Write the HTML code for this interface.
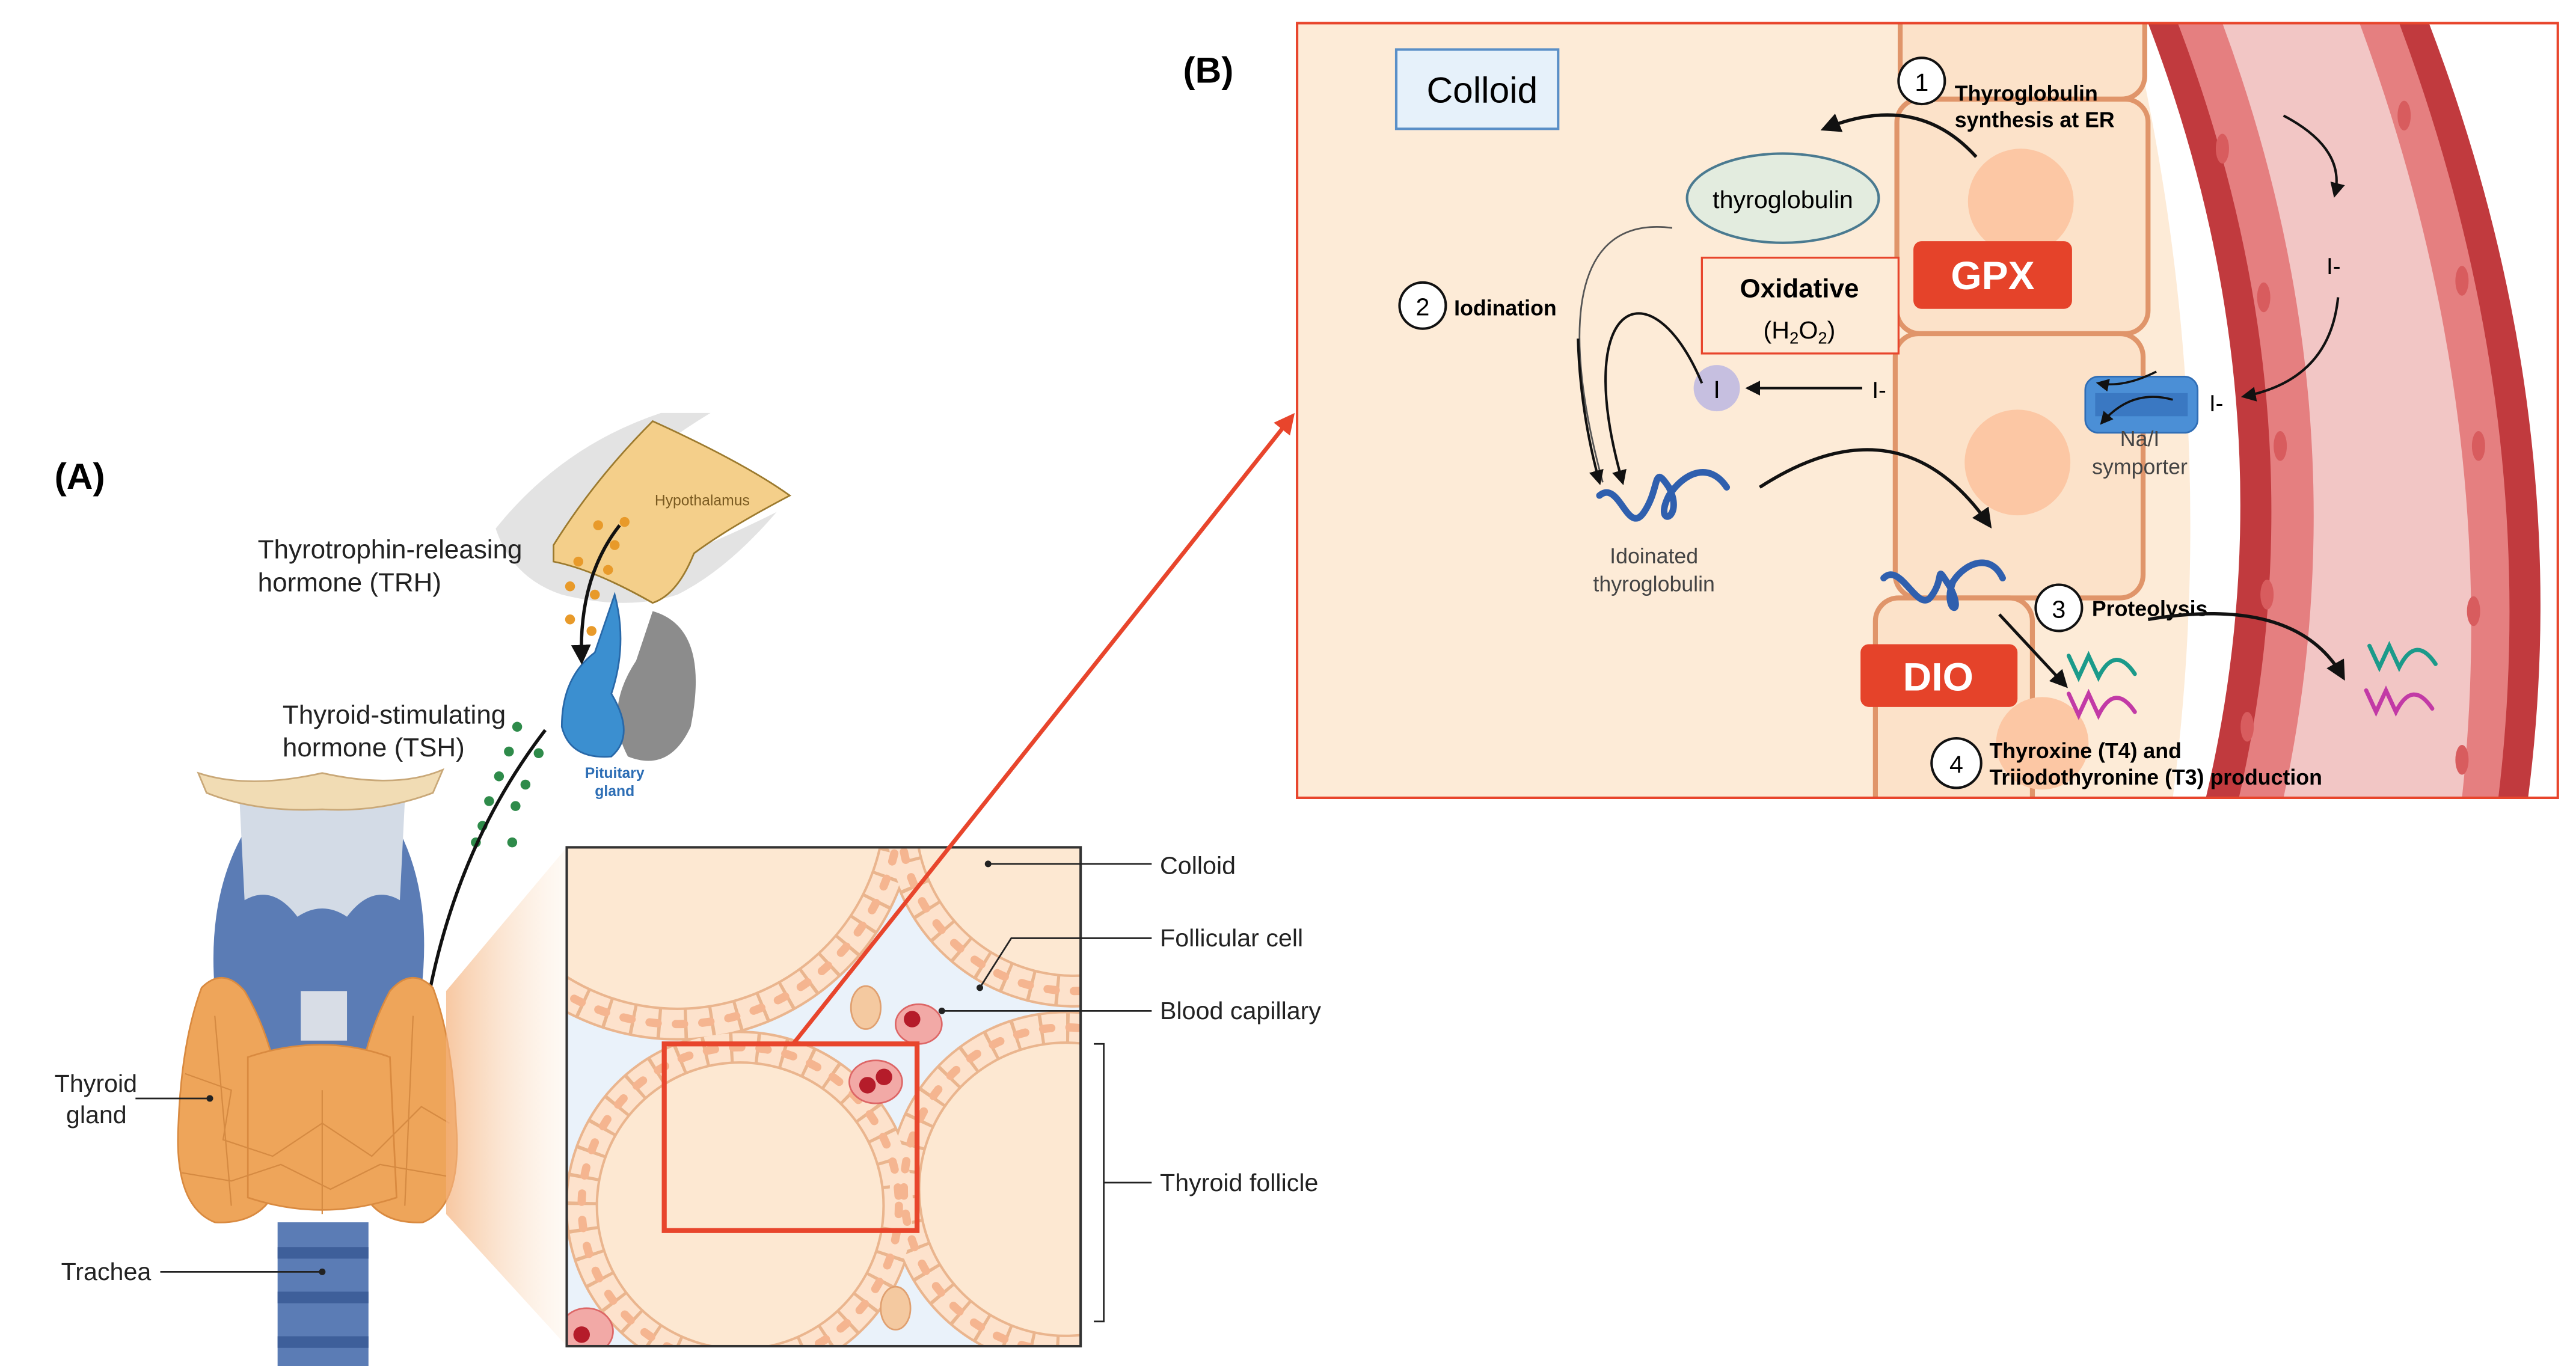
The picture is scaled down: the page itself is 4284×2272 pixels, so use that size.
<!DOCTYPE html>
<html><head><meta charset="utf-8"><style>
html,body{margin:0;padding:0;background:#fff;width:4284px;height:2272px;overflow:hidden}
svg{display:block}
text{font-family:"Liberation Sans",sans-serif}
</style></head><body>
<svg width="4284" height="2272" viewBox="0 0 1559 827" preserveAspectRatio="none" xmlns="http://www.w3.org/2000/svg">
<defs>
<marker id="ah" viewBox="0 0 10 10" refX="8" refY="5" markerWidth="6" markerHeight="6" orient="auto-start-reverse"><path d="M0,0 L10,5 L0,10 z" fill="#111"/></marker>
<marker id="rh" viewBox="0 0 10 10" refX="8" refY="5" markerWidth="5" markerHeight="5" orient="auto"><path d="M0,0 L10,5 L0,10 z" fill="#e8452c"/></marker>
<clipPath id="cb"><rect x="785" y="14" width="763" height="469"/></clipPath>
<clipPath id="ci"><rect x="343" y="513" width="311" height="302"/></clipPath>
<linearGradient id="fade" x1="0" x2="1"><stop offset="0" stop-color="#f4b07a"/><stop offset="1" stop-color="#fdeedd" stop-opacity="0.4"/></linearGradient>
</defs>

<!-- PANEL B -->
<text x="716" y="50" font-size="22" font-weight="bold">(B)</text>
<g clip-path="url(#cb)">
<rect x="785" y="14" width="763" height="469" fill="#fdebd7"/>
<path d="M1290,14 Q1345,250 1315,483 L1548,483 L1548,14 Z" fill="#fff"/>
<path d="M1300,14 Q1390,250 1335,483 L1530,483 Q1560,250 1470,14 Z" fill="#c13a3e"/>
<path d="M1318,14 Q1408,250 1355,483 L1512,483 Q1540,250 1452,14 Z" fill="#e57f80"/>
<path d="M1345,14 Q1432,250 1382,483 L1490,483 Q1515,250 1428,14 Z" fill="#f2c6c5"/>
<g fill="#d85c5e">
<ellipse cx="1345" cy="90" rx="4" ry="9"/><ellipse cx="1370" cy="180" rx="4" ry="9"/><ellipse cx="1380" cy="270" rx="4" ry="9"/><ellipse cx="1372" cy="360" rx="4" ry="9"/><ellipse cx="1360" cy="440" rx="4" ry="9"/>
<ellipse cx="1455" cy="70" rx="4" ry="9"/><ellipse cx="1490" cy="170" rx="4" ry="9"/><ellipse cx="1500" cy="270" rx="4" ry="9"/><ellipse cx="1497" cy="370" rx="4" ry="9"/><ellipse cx="1490" cy="460" rx="4" ry="9"/>
</g>
<g fill="#fce2c9" stroke="#e0956a" stroke-width="3">
<rect x="1150" y="0" width="148" height="60" rx="14"/>
<rect x="1148" y="60" width="152" height="142" rx="14"/>
<rect x="1147" y="202" width="150" height="160" rx="14"/>
<rect x="1135" y="362" width="95" height="140" rx="14"/>
</g>
<g fill="#fcc7a4"><circle cx="1223" cy="122" r="32"/><circle cx="1221" cy="280" r="32"/><circle cx="1236" cy="450" r="28"/></g>
</g>
<rect x="785" y="14" width="763" height="469" fill="none" stroke="#e8452c" stroke-width="1.5"/>

<rect x="845" y="30" width="98" height="48" fill="#e6f1fa" stroke="#5a8fc7" stroke-width="1.5"/>
<text x="897" y="62" font-size="22" text-anchor="middle">Colloid</text>

<circle cx="1163" cy="49" r="14" fill="#fff" stroke="#111" stroke-width="1.5"/>
<text x="1163" y="55" font-size="15" text-anchor="middle">1</text>
<text x="1183" y="61" font-size="13" font-weight="bold">Thyroglobulin</text>
<text x="1183" y="77" font-size="13" font-weight="bold">synthesis at ER</text>
<path d="M1196,95 Q1160,55 1104,78" fill="none" stroke="#111" stroke-width="2" marker-end="url(#ah)"/>

<ellipse cx="1079" cy="120" rx="58" ry="27" fill="#e3ecdf" stroke="#4a7a90" stroke-width="1.5"/>
<text x="1079" y="126" font-size="15" text-anchor="middle">thyroglobulin</text>

<rect x="1030" y="156" width="119" height="58" fill="#fdebd7" stroke="#e8452c" stroke-width="1.2"/>
<text x="1089" y="180" font-size="16" font-weight="bold" text-anchor="middle">Oxidative</text>
<text x="1089" y="205" font-size="15" text-anchor="middle">(H<tspan font-size="10" dy="3">2</tspan><tspan dy="-3">O</tspan><tspan font-size="10" dy="3">2</tspan><tspan dy="-3">)</tspan></text>

<rect x="1158" y="146" width="96" height="41" rx="5" fill="#e5432a"/>
<text x="1206" y="175" font-size="24" font-weight="bold" fill="#fff" text-anchor="middle">GPX</text>

<circle cx="861" cy="185" r="14" fill="#fff" stroke="#111" stroke-width="1.5"/>
<text x="861" y="191" font-size="15" text-anchor="middle">2</text>
<text x="880" y="191" font-size="13" font-weight="bold">Iodination</text>

<circle cx="1039" cy="235" r="14" fill="#c6bfe0"/>
<text x="1039" y="241" font-size="15" text-anchor="middle">I</text>
<line x1="1127" y1="235" x2="1058" y2="235" stroke="#111" stroke-width="1.5" marker-end="url(#ah)"/>
<text x="1133" y="241" font-size="14">I-</text>
<path d="M1012,138 C950,130 945,200 970,292" fill="none" stroke="#555" stroke-width="1" />
<path d="M1030,232 C1000,160 950,180 982,292" fill="none" stroke="#111" stroke-width="1.5" marker-end="url(#ah)"/>
<path d="M955,205 C956,240 962,270 968,292" fill="none" stroke="#111" stroke-width="1.5" marker-end="url(#ah)"/>

<path d="M968,300 C980,290 985,325 995,310 C1005,295 1000,280 1010,295 C1020,315 1000,320 1010,300 C1020,285 1035,280 1045,295" fill="none" stroke="#2f5fae" stroke-width="4" stroke-linecap="round"/>
<text x="1001" y="341" font-size="13" fill="#444" text-anchor="middle">Idoinated</text>
<text x="1001" y="358" font-size="13" fill="#444" text-anchor="middle">thyroglobulin</text>
<path d="M1065,295 Q1150,240 1204,318" fill="none" stroke="#111" stroke-width="2" marker-end="url(#ah)"/>

<rect x="1262" y="228" width="68" height="34" rx="8" fill="#4b8fd6" stroke="#2f6db5"/>
<rect x="1268" y="238" width="56" height="14" fill="#3a78c2"/>
<path d="M1305,225 Q1285,235 1270,232" fill="none" stroke="#111" stroke-width="1.3" marker-end="url(#ah)"/>
<path d="M1315,242 Q1290,235 1272,256" fill="none" stroke="#111" stroke-width="1.3" marker-end="url(#ah)"/>
<text x="1295" y="270" font-size="13" fill="#444" text-anchor="middle">Na/I</text>
<text x="1295" y="287" font-size="13" fill="#444" text-anchor="middle">symporter</text>
<text x="1337" y="249" font-size="14">I-</text>
<path d="M1382,70 Q1420,90 1413,118" fill="none" stroke="#111" stroke-width="1.5" marker-end="url(#ah)"/>
<text x="1408" y="166" font-size="14">I-</text>
<path d="M1415,180 Q1410,230 1358,240" fill="none" stroke="#111" stroke-width="1.5" marker-end="url(#ah)"/>

<path d="M1140,350 C1150,340 1160,370 1168,362 C1178,350 1170,340 1180,355 C1190,375 1175,370 1182,352 C1190,340 1205,335 1212,350" fill="none" stroke="#2f5fae" stroke-width="4" stroke-linecap="round"/>
<circle cx="1246" cy="368" r="14" fill="#fff" stroke="#111" stroke-width="1.5"/>
<text x="1246" y="374" font-size="15" text-anchor="middle">3</text>
<text x="1266" y="373" font-size="13" font-weight="bold">Proteolysis</text>

<rect x="1126" y="390" width="95" height="38" rx="5" fill="#e5432a"/>
<text x="1173" y="418" font-size="24" font-weight="bold" fill="#fff" text-anchor="middle">DIO</text>
<line x1="1210" y1="372" x2="1250" y2="415" stroke="#111" stroke-width="1.8" marker-end="url(#ah)"/>
<g fill="none" stroke-width="2.5" stroke-linecap="round">
<path d="M1252,397 L1258,410 L1264,397 L1270,410 Q1280,390 1292,408" stroke="#1b9a8a"/>
<path d="M1252,420 L1258,433 L1264,420 L1270,433 Q1280,413 1292,431" stroke="#c23aa6"/>
<path d="M1434,391 L1440,404 L1446,391 L1452,404 Q1462,384 1474,402" stroke="#1b9a8a"/>
<path d="M1432,418 L1438,431 L1444,418 L1450,431 Q1460,411 1472,429" stroke="#c23aa6"/>
</g>
<path d="M1300,375 Q1390,360 1418,410" fill="none" stroke="#111" stroke-width="2" marker-end="url(#ah)"/>
<circle cx="1184" cy="462" r="15" fill="#fff" stroke="#111" stroke-width="1.5"/>
<text x="1184" y="468" font-size="15" text-anchor="middle">4</text>
<text x="1204" y="459" font-size="13" font-weight="bold">Thyroxine (T4) and</text>
<text x="1204" y="475" font-size="13" font-weight="bold">Triiodothyronine (T3) production</text>

<!-- PANEL A -->
<text x="33" y="296" font-size="22" font-weight="bold">(A)</text>
<path d="M300,320 Q340,270 400,250 L430,250 Q380,280 345,325 Q360,345 400,340 Q430,330 470,310 Q440,345 410,360 Q380,370 340,360 Q310,350 300,320 Z" fill="#e3e3e3"/>
<path d="M335,330 Q360,290 395,255 Q450,280 478,300 Q440,320 420,335 Q410,360 395,365 Q360,345 335,340 Z" fill="#f4cf8a" stroke="#9c7a2e" stroke-width="1"/>
<text x="425" y="306" font-size="9" fill="#7a5a20" text-anchor="middle">Hypothalamus</text>
<g fill="#e89a2a"><circle cx="362" cy="318" r="3"/><circle cx="378" cy="316" r="3"/><circle cx="372" cy="330" r="3"/><circle cx="350" cy="340" r="3"/><circle cx="368" cy="345" r="3"/><circle cx="345" cy="355" r="3"/><circle cx="360" cy="360" r="3"/><circle cx="345" cy="375" r="3"/><circle cx="358" cy="382" r="3"/></g>
<path d="M395,370 Q430,380 418,440 Q405,468 380,458 Q365,430 385,400 Z" fill="#8c8c8c"/>
<path d="M372,360 Q380,390 370,420 Q385,445 370,458 Q345,460 340,440 Q340,410 360,395 Z" fill="#3b8fd0" stroke="#2868a8"/>
<text x="372" y="471" font-size="9" fill="#2d6eb5" font-weight="bold" text-anchor="middle">Pituitary</text>
<text x="372" y="482" font-size="9" fill="#2d6eb5" font-weight="bold" text-anchor="middle">gland</text>
<path d="M375,318 Q350,350 352,400" fill="none" stroke="#111" stroke-width="2" marker-end="url(#ah)"/>
<text x="156" y="338" font-size="16" fill="#222">Thyrotrophin-releasing</text>
<text x="156" y="358" font-size="16" fill="#222">hormone (TRH)</text>
<text x="171" y="438" font-size="16" fill="#222">Thyroid-stimulating</text>
<text x="171" y="458" font-size="16" fill="#222">hormone (TSH)</text>
<g fill="#2e8b4a"><circle cx="313" cy="440" r="3"/><circle cx="308" cy="455" r="3"/><circle cx="326" cy="456" r="3"/><circle cx="302" cy="470" r="3"/><circle cx="318" cy="475" r="3"/><circle cx="296" cy="485" r="3"/><circle cx="312" cy="488" r="3"/><circle cx="292" cy="500" r="3"/><circle cx="310" cy="510" r="3"/><circle cx="288" cy="510" r="3"/></g>
<path d="M330,442 Q270,520 255,630" fill="none" stroke="#111" stroke-width="2" marker-end="url(#ah)"/>

<!-- larynx -->
<path d="M168,478 Q195,465 222,478 L240,500 Q262,540 255,600 L245,660 L140,660 L130,600 Q125,540 150,500 Z" fill="#5b7cb5"/>
<path d="M145,485 L245,485 L242,545 Q225,535 210,555 Q195,545 180,555 Q165,535 148,545 Z" fill="#d3dbe6"/>
<path d="M120,468 Q150,478 195,468 Q240,478 268,466 L262,480 Q230,492 195,490 Q155,492 125,480 Z" fill="#f1dcb4" stroke="#c9a878"/>
<rect x="182" y="600" width="28" height="30" fill="#d8dde6"/>
<!-- thyroid gland -->
<g fill="#eea55a" stroke="#d98a40" stroke-width="1">
<path d="M122,598 Q135,585 148,600 Q172,640 172,700 Q168,742 130,740 Q105,730 108,680 Q110,630 122,598 Z"/>
<path d="M262,598 Q249,585 236,600 Q214,640 214,700 Q218,742 256,740 Q280,730 276,680 Q274,630 262,598 Z"/>
<path d="M150,640 Q195,625 236,640 L240,725 Q195,740 150,725 Z"/>
</g>
<g stroke="#d58a42" stroke-width="0.8" fill="none"><path d="M112,650 L140,660 L135,690 L165,700 L195,680 L225,700 L255,670 L272,680"/><path d="M110,710 L140,715 L170,705 L200,720 L230,705 L270,712"/><path d="M130,615 L140,730 M250,615 L245,730 M195,660 L195,735"/></g>
<rect x="168" y="740" width="55" height="87" fill="#5b7cb5"/>
<g fill="#3e5f9a"><rect x="168" y="755" width="55" height="7"/><rect x="168" y="782" width="55" height="7"/><rect x="168" y="809" width="55" height="7"/></g>
<text x="33" y="661" font-size="15" fill="#222">Thyroid</text>
<text x="40" y="680" font-size="15" fill="#222">gland</text>
<line x1="82" y1="665" x2="127" y2="665" stroke="#222"/><circle cx="127" cy="665" r="2" fill="#222"/>
<text x="37" y="775" font-size="15" fill="#222">Trachea</text>
<line x1="97" y1="770" x2="195" y2="770" stroke="#222"/><circle cx="195" cy="770" r="2" fill="#222"/>

<polygon points="270,600 343,513 343,815 270,735" fill="url(#fade)" opacity="0.7"/>

<rect x="343" y="513" width="311" height="302" fill="#eaf2fa"/>
<g clip-path="url(#ci)">
<g fill="#fde8d2" stroke="#eab58e" stroke-width="20">
<circle cx="410" cy="485" r="135"/><circle cx="650" cy="495" r="105"/><circle cx="448" cy="730" r="96"/><circle cx="645" cy="720" r="98"/>
</g>
<g fill="none" stroke="#fde2cc" stroke-width="17" stroke-dasharray="14 2">
<circle cx="410" cy="485" r="135"/><circle cx="650" cy="495" r="105"/><circle cx="448" cy="730" r="96"/><circle cx="645" cy="720" r="98"/>
</g>
<g fill="none" stroke="#f5b590" stroke-width="5" stroke-dasharray="5 11" stroke-linecap="round">
<circle cx="410" cy="485" r="135"/><circle cx="650" cy="495" r="105"/><circle cx="448" cy="730" r="96"/><circle cx="645" cy="720" r="98"/>
</g>
<ellipse cx="556" cy="620" rx="14" ry="12" fill="#f2a9a6" stroke="#d66"/><circle cx="552" cy="617" r="5" fill="#b51c2a"/>
<ellipse cx="530" cy="655" rx="16" ry="13" fill="#f2a9a6" stroke="#d66"/><circle cx="525" cy="657" r="5" fill="#b51c2a"/><circle cx="535" cy="652" r="5" fill="#b51c2a"/>
<ellipse cx="355" cy="806" rx="16" ry="14" fill="#f2a9a6" stroke="#d66"/><circle cx="352" cy="808" r="5" fill="#b51c2a"/>
<ellipse cx="542" cy="792" rx="9" ry="13" fill="#f4c9a0" stroke="#e0a070"/>
<ellipse cx="524" cy="610" rx="9" ry="13" fill="#f4c9a0" stroke="#e0a070"/>
</g>
<rect x="343" y="513" width="311" height="302" fill="none" stroke="#333" stroke-width="1.5"/>
<rect x="402" y="632" width="153" height="113" fill="none" stroke="#e8452c" stroke-width="3"/>
<line x1="480" y1="632" x2="782" y2="252" stroke="#e8452c" stroke-width="2.5" marker-end="url(#rh)"/>

<g stroke="#222" stroke-width="1" fill="none">
<line x1="598" y1="523" x2="697" y2="523"/>
<polyline points="593,598 612,568 697,568"/>
<line x1="570" y1="612" x2="697" y2="612"/>
<polyline points="662,632 668,632 668,800 662,800"/>
<line x1="668" y1="716" x2="697" y2="716"/>
</g>
<g fill="#222"><circle cx="598" cy="523" r="2"/><circle cx="593" cy="598" r="2"/><circle cx="570" cy="612" r="2"/></g>
<g font-size="15" fill="#222">
<text x="702" y="529">Colloid</text>
<text x="702" y="573">Follicular cell</text>
<text x="702" y="617">Blood capillary</text>
<text x="702" y="721">Thyroid follicle</text>
</g>
</svg>
</body></html>
